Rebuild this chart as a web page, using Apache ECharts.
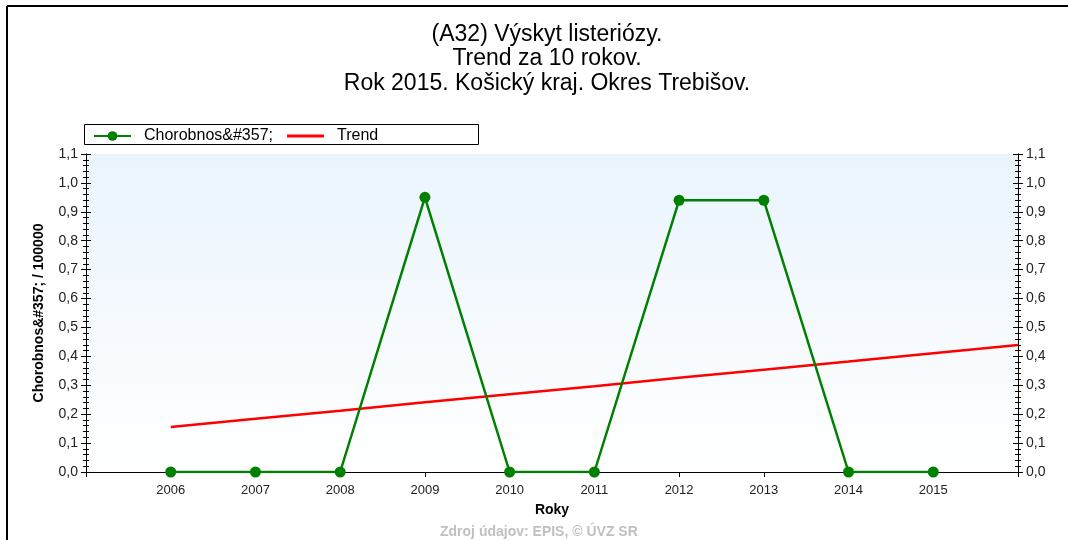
<!DOCTYPE html>
<html>
<head>
<meta charset="utf-8">
<script src="https://cdn.jsdelivr.net/npm/echarts@6/dist/echarts.min.js"></script>
<style>
  html, body { margin: 0; padding: 0; background: #fff; }
  #chart { width: 1068px; height: 540px; }
</style>
</head>
<body>
<div id="chart"></div>
<script>
// data
var years = [2006, 2007, 2008, 2009, 2010, 2011, 2012, 2013, 2014, 2015]
var chorobnost = [0, 0, 0, 0.95, 0, 0, 0.94, 0.94, 0, 0]
var trendYears = [2006, 2007, 2008, 2009, 2010, 2011, 2012, 2013, 2014, 2015, 2016]
var trendValues = [0.156, 0.184, 0.212, 0.241, 0.269, 0.297, 0.326, 0.354, 0.382, 0.411, 0.439]
var titleLines = ['(A32) Výskyt listeriózy.', 'Trend za 10 rokov.', 'Rok 2015. Košický kraj. Okres Trebišov.']

var font = 'Liberation Sans, Arial, sans-serif'

function pairs (xs, ys) {
  var out = []
  for (var i = 0; i < xs.length; i++) out.push([xs[i], ys[i]])
  return out
}

function yLabel (v) {
  return v.toFixed(1).replace('.', ',')
}

function yAxisDef (pos, inside, labels) {
  return {
    type: 'value',
    position: pos,
    min: 0,
    max: 1.1,
    interval: 0.1,
    splitLine: { show: false },
    axisLine: { show: true, lineStyle: { color: '#000', width: 1 } },
    axisTick: { show: true, inside: inside, length: 5, lineStyle: { color: '#000' } },
    minorTick: { show: true, splitNumber: 5, length: 3, lineStyle: { color: '#000' } },
    axisLabel: {
      show: labels,
      formatter: yLabel,
      color: '#222',
      fontSize: 14,
      fontFamily: font,
      margin: 8
    }
  }
}

var chart = echarts.init(document.getElementById('chart'))

chart.setOption({
  backgroundColor: '#fff',
  animation: false,
  title: {
    text: titleLines.join('\n'),
    left: 542,
    textAlign: 'center',
    top: 17,
    textStyle: { fontFamily: font, fontSize: 23, fontWeight: 'normal', color: '#000', lineHeight: 24.5 }
  },
  legend: {
    left: 88,
    top: 123,
    itemWidth: 37,
    itemHeight: 12,
    itemGap: 14,
    textStyle: { fontFamily: font, fontSize: 16, color: '#000', padding: [0, 0, 0, 8] },
    data: [
      { name: 'Chorobnos&#357;' },
      { name: 'Trend', icon: 'path://M0,0 L40,0 L40,3 L0,3 Z' }
    ]
  },
  grid: {
    left: 86,
    right: 50,
    top: 154,
    bottom: 68,
    show: true,
    borderWidth: 0,
    backgroundColor: new echarts.graphic.LinearGradient(0, 0, 0, 1, [
      { offset: 0, color: '#eaf4fd' },
      { offset: 1, color: '#ffffff' }
    ])
  },
  xAxis: [
    {
      type: 'value',
      position: 'bottom',
      min: 2005,
      max: 2016,
      interval: 1,
      name: 'Roky',
      nameLocation: 'middle',
      nameGap: 31,
      nameTextStyle: { fontFamily: font, fontSize: 14, fontWeight: 'bold', color: '#000' },
      splitLine: { show: false },
      axisLine: { show: true, lineStyle: { color: '#000', width: 1 } },
      axisTick: { show: true, length: 5, lineStyle: { color: '#000' } },
      axisLabel: {
        color: '#222',
        fontSize: 13,
        fontFamily: font,
        margin: 12,
        formatter: function (v) {
          return (v < 2006 || v > 2015) ? '' : String(v)
        }
      }
    },
    {
      type: 'value',
      position: 'top',
      min: 2005,
      max: 2016,
      interval: 1,
      splitLine: { show: false },
      axisLine: { show: true, lineStyle: { color: '#000', width: 1 } },
      axisTick: { show: true, inside: true, length: 5, lineStyle: { color: '#000' } },
      axisLabel: { show: false }
    }
  ],
  yAxis: [
    Object.assign(yAxisDef('left', false, true), {
      name: 'Chorobnos&#357; / 100000',
      nameLocation: 'middle',
      nameGap: 40,
      nameTextStyle: { fontFamily: font, fontSize: 14, fontWeight: 'bold', color: '#000' }
    }),
    yAxisDef('left', true, false),
    yAxisDef('right', false, true),
    yAxisDef('right', true, false)
  ],
  series: [
    {
      name: 'Trend',
      type: 'line',
      data: pairs(trendYears, trendValues),
      symbol: 'none',
      lineStyle: { color: '#ff0000', width: 2.5 },
      itemStyle: { color: '#ff0000' },
      z: 2
    },
    {
      name: 'Chorobnos&#357;',
      type: 'line',
      data: pairs(years, chorobnost),
      symbol: 'circle',
      symbolSize: 11,
      lineStyle: { color: '#008000', width: 2.5 },
      itemStyle: { color: '#008000' },
      z: 3
    }
  ],
  graphic: [
    { type: 'rect', shape: { x: 84.5, y: 124.5, width: 394, height: 20 }, style: { fill: null, stroke: '#000', lineWidth: 1 } },
    { type: 'line', shape: { x1: 7, y1: 6, x2: 1068, y2: 6 }, style: { stroke: '#000', lineWidth: 2 } },
    { type: 'line', shape: { x1: 7, y1: 6, x2: 7, y2: 540 }, style: { stroke: '#000', lineWidth: 2 } },
    {
      type: 'text',
      left: 440,
      top: 525,
      style: { text: 'Zdroj údajov: EPIS, © ÚVZ SR', fill: '#c0c0c0', font: 'bold 14px ' + font }
    }
  ]
})
</script>
</body>
</html>
